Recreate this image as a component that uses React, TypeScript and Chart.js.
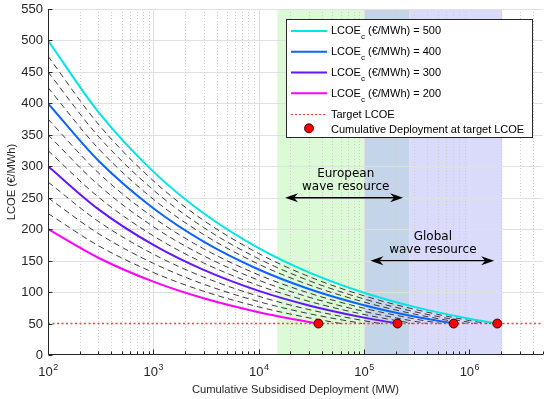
import { useEffect, useRef } from 'react';
import { Chart, registerables } from 'chart.js';

Chart.register(...registerables);

const SANS = '"Liberation Sans", Arial, Helvetica, sans-serif';
const DEJAVU = '"DejaVu Sans", Verdana, sans-serif';

// Cumulative subsidised deployment (MW) at which curve values are read
const deploymentMW = [1e2, 3e2, 1e3, 3e3, 1e4, 3e4, 1e5, 3e5, 1e6];
const targetLCOE = 50;
const xMinMW = 1e2;
const xMaxMW = 5e6;

// Main learning curves (LCOE_c = 500, 400, 300, 200 €/MWh)
const mainLabels = ['500', '400', '300', '200'];
const lcoe500 = [500, 386.5, 291.5, 225.3, 169.9, 131.3, 99.0, 76.5, 57.7];
const lcoe400 = [400, 309.2, 233.2, 180.2, 135.9, 105.0, 79.2, 61.2];
const lcoe300 = [300, 231.9, 174.9, 135.2, 101.9, 78.8, 59.4];
const lcoe200 = [200, 154.6, 116.6, 90.1, 68.0, 52.5];
// Deployment where each main curve reaches the target LCOE
const mainEndMW = [1.84e6, 7.1e5, 2.08e5, 3.69e4];

// Intermediate (dashed) curves: LCOE_c = 475, 450, 425, 375, 350, 325, 275, 250, 225
const lcoe475 = [475, 367.1, 276.9, 214.0, 161.4, 124.7, 94.1, 72.7, 54.8];
const lcoe450 = [450, 347.8, 262.3, 202.7, 152.9, 118.2, 89.1, 68.9, 51.9];
const lcoe425 = [425, 328.5, 247.7, 191.5, 144.4, 111.6, 84.2, 65.1];
const lcoe375 = [375, 289.8, 218.6, 168.9, 127.4, 98.5, 74.3, 57.4];
const lcoe350 = [350, 270.5, 204.0, 157.7, 118.9, 91.9, 69.3, 53.6];
const lcoe325 = [325, 251.2, 189.4, 146.4, 110.4, 85.3, 64.4];
const lcoe275 = [275, 212.5, 160.3, 123.9, 93.4, 72.2, 54.5];
const lcoe250 = [250, 193.2, 145.7, 112.6, 84.9, 65.7];
const lcoe225 = [225, 173.9, 131.2, 101.4, 76.5, 59.1];
const dashedEndMW = [1.48e6, 1.17e6, 9.2e5, 5.4e5, 4.0e5, 2.93e5, 1.44e5, 9.6e4, 6.1e4];

// Resource ranges (MW) and annotation arrows
const europeRangeMW = [1.5e4, 2.7e5];
const globalRangeMW = [1e5, 2.05e6];
const europeArrowMW = [1.78e4, 2.35e5];
const europeArrowLCOE = 250;
const globalArrowMW = [1.15e5, 1.72e6];
const globalArrowLCOE = 150;
const europeLabel = ['European', 'wave resource'];
const europeLabelAt = [6.7e4, 283];
const globalLabel = ['Global', 'wave resource'];
const globalLabelAt = [4.5e5, 183];

// Axis ticks
const yTicks = [0, 50, 100, 150, 200, 250, 300, 350, 400, 450, 500, 550];
const xDecades = [1e2, 1e3, 1e4, 1e5, 1e6];
const xExponents = ['2', '3', '4', '5', '6'];
const xMinorMultipliers = [2, 3, 4, 5, 6, 7, 8, 9];

const yTitle = 'LCOE (€/MWh)';
const xTitle = 'Cumulative Subsidised Deployment (MW)';
const legendTarget = 'Target LCOE';
const legendDots = 'Cumulative Deployment at target LCOE';

const mainColors = ['#00e6e6', '#0a64ff', '#6414ff', '#ff00ff'];
const GREEN = '#dcfad6';
const OVERLAP = '#c5d5e9';
const PURPLE = '#dadafb';
const AXIS = '#262626';
const TARGET_RED = '#ff3b3b';

function pts(values: number[], endMW: number) {
  return values
    .map((v, i) => ({ x: deploymentMW[i], y: v }))
    .concat([{ x: endMW, y: targetLCOE }]);
}

function arrowHead(ctx: CanvasRenderingContext2D, tipX: number, y: number, dir: number) {
  const L = 13, H = 4.5, N = 4;
  ctx.beginPath();
  ctx.moveTo(tipX, y);
  ctx.lineTo(tipX - dir * L, y - H);
  ctx.lineTo(tipX - dir * (L - N), y);
  ctx.lineTo(tipX - dir * L, y + H);
  ctx.closePath();
  ctx.fill();
}

const decor = {
  id: 'decor',
  beforeDatasetsDraw(chart: any) {
    const { ctx, chartArea: a, scales } = chart;
    const x = scales.x, y = scales.y;
    ctx.save();
    ctx.beginPath();
    ctx.rect(a.left, a.top, a.right - a.left, a.bottom - a.top);
    ctx.clip();
    const band = (v0: number, v1: number, color: string) => {
      const p0 = x.getPixelForValue(v0), p1 = x.getPixelForValue(v1);
      ctx.fillStyle = color;
      ctx.fillRect(p0, a.top, p1 - p0, a.bottom - a.top);
    };
    const ov0 = Math.max(europeRangeMW[0], globalRangeMW[0]);
    const ov1 = Math.min(europeRangeMW[1], globalRangeMW[1]);
    band(europeRangeMW[0], ov0, GREEN);
    band(ov0, ov1, OVERLAP);
    band(ov1, globalRangeMW[1], PURPLE);

    // minor dotted vertical grid
    ctx.strokeStyle = '#cdcdcd';
    ctx.lineWidth = 1;
    ctx.setLineDash([1, 2]);
    for (const d of xDecades) {
      for (const m of xMinorMultipliers) {
        const v = d * m;
        if (v > xMaxMW) continue;
        const px = Math.round(x.getPixelForValue(v)) + 0.5;
        ctx.beginPath();
        ctx.moveTo(px, a.top);
        ctx.lineTo(px, a.bottom);
        ctx.stroke();
      }
    }
    ctx.setLineDash([]);
    // major grid
    ctx.strokeStyle = '#e0e0e0';
    for (const d of xDecades) {
      if (d === xMinMW) continue;
      const px = Math.round(x.getPixelForValue(d)) + 0.5;
      ctx.beginPath();
      ctx.moveTo(px, a.top);
      ctx.lineTo(px, a.bottom);
      ctx.stroke();
    }
    for (const t of yTicks) {
      if (t === 0 || t === targetLCOE) continue;
      const py = Math.round(y.getPixelForValue(t)) + 0.5;
      ctx.beginPath();
      ctx.moveTo(a.left, py);
      ctx.lineTo(a.right, py);
      ctx.stroke();
    }
    ctx.restore();
  },
  afterDatasetsDraw(chart: any) {
    const { ctx, chartArea: a, scales } = chart;
    const x = scales.x, y = scales.y;
    ctx.save();

    // axes
    ctx.strokeStyle = AXIS;
    ctx.lineWidth = 1;
    const ax = Math.round(a.left) + 0.5;
    const ay = Math.round(a.bottom) - 0.5;
    ctx.beginPath();
    ctx.moveTo(ax, a.top);
    ctx.lineTo(ax, ay);
    ctx.lineTo(a.right, ay);
    ctx.stroke();

    // y ticks + labels
    ctx.fillStyle = AXIS;
    ctx.font = `13px ${SANS}`;
    ctx.textAlign = 'right';
    ctx.textBaseline = 'middle';
    for (const t of yTicks) {
      const py = Math.round(y.getPixelForValue(t)) + 0.5;
      ctx.beginPath();
      ctx.moveTo(ax, py);
      ctx.lineTo(ax + 4, py);
      ctx.stroke();
      ctx.fillText(String(t), a.left - 5, py);
    }

    // x ticks
    for (const d of xDecades) {
      const px = Math.round(x.getPixelForValue(d)) + 0.5;
      ctx.beginPath();
      ctx.moveTo(px, ay);
      ctx.lineTo(px, ay - 5);
      ctx.stroke();
      for (const m of xMinorMultipliers) {
        const v = d * m;
        if (v > xMaxMW) continue;
        const qx = Math.round(x.getPixelForValue(v)) + 0.5;
        ctx.beginPath();
        ctx.moveTo(qx, ay);
        ctx.lineTo(qx, ay - 3);
        ctx.stroke();
      }
    }
    // x labels 10^n
    ctx.textAlign = 'left';
    ctx.textBaseline = 'alphabetic';
    xDecades.forEach((d, i) => {
      const px = x.getPixelForValue(d);
      ctx.font = `13px ${SANS}`;
      const w1 = ctx.measureText('10').width;
      ctx.font = `9px ${SANS}`;
      const w2 = ctx.measureText(xExponents[i]).width;
      const start = px - (w1 + w2) / 2;
      ctx.font = `13px ${SANS}`;
      ctx.fillText('10', start, 376);
      ctx.font = `9px ${SANS}`;
      ctx.fillText(xExponents[i], start + w1 + 0.5, 369.5);
    });

    // axis titles
    ctx.font = `11.2px ${SANS}`;
    ctx.textAlign = 'center';
    ctx.fillText(xTitle, (a.left + a.right) / 2, 393);
    ctx.save();
    ctx.translate(15, (a.top + a.bottom) / 2);
    ctx.rotate(-Math.PI / 2);
    ctx.fillText(yTitle, 0, 0);
    ctx.restore();

    // arrows
    ctx.fillStyle = '#000';
    ctx.strokeStyle = '#000';
    ctx.lineWidth = 1.3;
    const drawArrow = (range: number[], val: number) => {
      const x1 = x.getPixelForValue(range[0]);
      const x2 = x.getPixelForValue(range[1]);
      const py = y.getPixelForValue(val);
      ctx.beginPath();
      ctx.moveTo(x1 + 9, py);
      ctx.lineTo(x2 - 9, py);
      ctx.stroke();
      arrowHead(ctx, x1, py, -1);
      arrowHead(ctx, x2, py, 1);
    };
    drawArrow(europeArrowMW, europeArrowLCOE);
    drawArrow(globalArrowMW, globalArrowLCOE);

    // annotation text
    ctx.font = `12px ${DEJAVU}`;
    ctx.textAlign = 'center';
    ctx.fillStyle = '#000';
    const label = (lines: string[], at: number[]) => {
      const px = x.getPixelForValue(at[0]);
      const py = y.getPixelForValue(at[1]);
      lines.forEach((ln, i) => ctx.fillText(ln, px, py + i * 13.3));
    };
    label(europeLabel, europeLabelAt);
    label(globalLabel, globalLabelAt);

    // legend
    const L0 = 286.5, T0 = 19.5, R0 = 532.5, B0 = 137.5;
    ctx.fillStyle = '#fff';
    ctx.fillRect(L0, T0, R0 - L0, B0 - T0);
    ctx.strokeStyle = AXIS;
    ctx.lineWidth = 1;
    ctx.strokeRect(L0, T0, R0 - L0, B0 - T0);
    const rowBase = [34.3, 55, 75.7, 96.5, 118.3, 132.7];
    const sx0 = 291, sx1 = 327, tx = 331;
    ctx.textAlign = 'left';
    ctx.textBaseline = 'alphabetic';
    mainLabels.forEach((lab, i) => {
      const ly = rowBase[i] - 3.3;
      ctx.strokeStyle = mainColors[i];
      ctx.lineWidth = 2;
      ctx.beginPath();
      ctx.moveTo(sx0, ly);
      ctx.lineTo(sx1, ly);
      ctx.stroke();
      ctx.fillStyle = '#000';
      ctx.font = `11px ${SANS}`;
      ctx.fillText('LCOE', tx, rowBase[i]);
      const w = ctx.measureText('LCOE').width;
      ctx.font = `8px ${SANS}`;
      ctx.fillText('c', tx + w, rowBase[i] + 5);
      const wc = ctx.measureText('c').width;
      ctx.font = `11px ${SANS}`;
      ctx.fillText(` (€/MWh) = ${lab}`, tx + w + wc, rowBase[i]);
    });
    // target line sample
    ctx.strokeStyle = TARGET_RED;
    ctx.lineWidth = 1;
    ctx.setLineDash([2, 2]);
    ctx.beginPath();
    ctx.moveTo(sx0, 114.5);
    ctx.lineTo(sx1, 114.5);
    ctx.stroke();
    ctx.setLineDash([]);
    ctx.fillStyle = '#000';
    ctx.font = `11px ${SANS}`;
    ctx.fillText(legendTarget, tx, rowBase[4]);
    // dot sample
    ctx.beginPath();
    ctx.arc(309, 128.3, 4.5, 0, Math.PI * 2);
    ctx.fillStyle = '#ff0000';
    ctx.fill();
    ctx.strokeStyle = '#000';
    ctx.lineWidth = 0.8;
    ctx.stroke();
    ctx.fillStyle = '#000';
    ctx.fillText(legendDots, tx, rowBase[5]);

    ctx.restore();
  },
};

export default function App() {
  const ref = useRef<HTMLCanvasElement>(null);
  useEffect(() => {
    document.body.style.margin = '0';
    const mainValues = [lcoe500, lcoe400, lcoe300, lcoe200];
    const dashedValues = [lcoe475, lcoe450, lcoe425, lcoe375, lcoe350, lcoe325, lcoe275, lcoe250, lcoe225];
    const datasets: any[] = [];
    datasets.push({
      label: legendDots,
      data: mainEndMW.map((m) => ({ x: m, y: targetLCOE })),
      showLine: false,
      pointRadius: 4.5,
      pointBackgroundColor: '#ff0000',
      pointBorderColor: '#000',
      pointBorderWidth: 0.8,
      clip: false,
    });
    datasets.push({
      label: legendTarget,
      data: [{ x: xMinMW, y: targetLCOE }, { x: xMaxMW, y: targetLCOE }],
      borderColor: TARGET_RED,
      borderWidth: 1.5,
      borderDash: [2, 2.5],
      pointRadius: 0,
      fill: false,
    });
    mainValues.forEach((vals, i) => {
      datasets.push({
        label: `LCOEc = ${mainLabels[i]}`,
        data: pts(vals, mainEndMW[i]),
        borderColor: mainColors[i],
        borderWidth: 2,
        pointRadius: 0,
        cubicInterpolationMode: 'monotone',
        fill: false,
      });
    });
    dashedValues.forEach((vals, i) => {
      datasets.push({
        label: `dashed ${i}`,
        data: pts(vals, dashedEndMW[i]),
        borderColor: '#3a3a3a',
        borderWidth: 1,
        borderDash: [6, 4],
        pointRadius: 0,
        cubicInterpolationMode: 'monotone',
        fill: false,
      });
    });

    const chart = new Chart(ref.current as HTMLCanvasElement, {
      type: 'line',
      data: { datasets },
      options: {
        responsive: false,
        animation: false,
        devicePixelRatio: 1,
        layout: { padding: { left: 48, right: 7, top: 9, bottom: 44 } },
        scales: {
          x: { type: 'logarithmic', min: xMinMW, max: xMaxMW, display: false },
          y: { type: 'linear', min: 0, max: 550, display: false },
        },
        plugins: { legend: { display: false }, tooltip: { enabled: false } },
        events: [],
      } as any,
      plugins: [decor],
    });
    return () => chart.destroy();
  }, []);
  return (
    <div style={{ width: 550, height: 399 }}>
      <canvas ref={ref} width={550} height={399} style={{ display: 'block' }} />
    </div>
  );
}
